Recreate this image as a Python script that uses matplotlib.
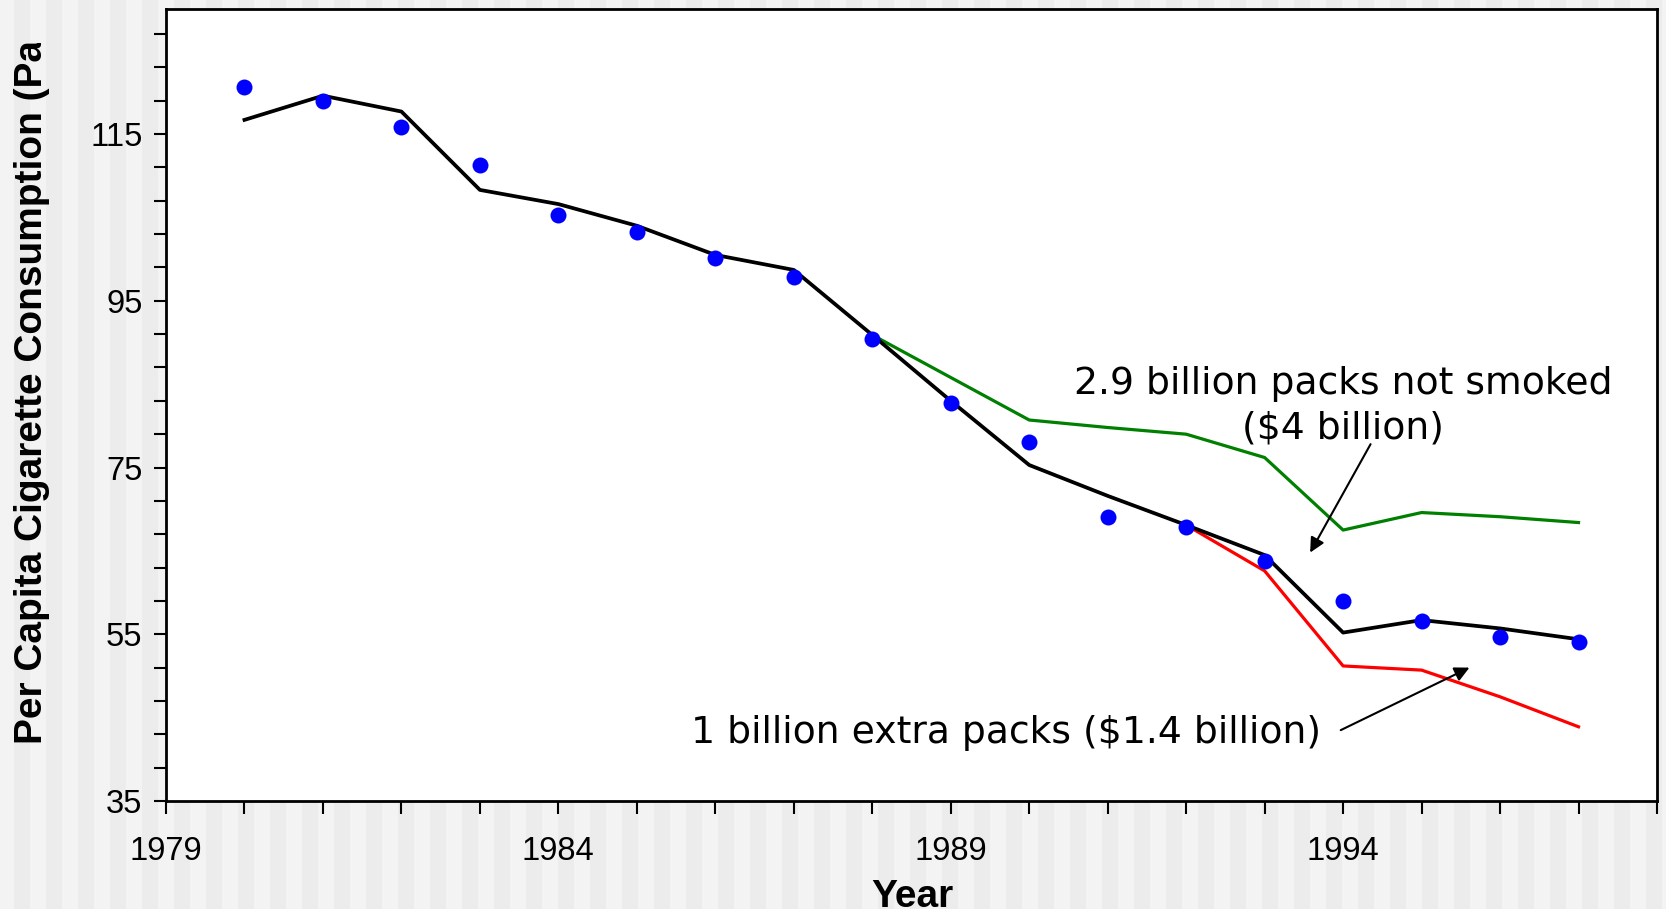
import numpy as np
import matplotlib
matplotlib.use('Agg')
import matplotlib.pyplot as plt
import matplotlib.ticker as ticker
from matplotlib.transforms import Bbox, TransformedBbox

plt.rcParams['font.family'] = ['Liberation Sans', 'DejaVu Sans']

# ── Data ────────────────────────────────────────────────────────────────
years_obs = np.arange(1980, 1998)
observed = [120.6, 119.0, 115.8, 111.3, 105.3, 103.2, 100.1, 97.9, 90.4,
            82.7, 78.1, 69.1, 67.9, 63.8, 59.0, 56.6, 54.7, 54.1]

years_fit = np.arange(1980, 1998)
fitted = [116.7, 119.6, 117.7, 108.3, 106.6, 104.0, 100.5, 98.7, 90.9,
          83.0, 75.3, 71.6, 68.1, 64.5, 55.2, 56.7, 55.7, 54.4]

# counterfactual without the program (from 1988)
years_green = np.arange(1988, 1998)
no_program = [90.9, 85.8, 80.7, 79.8, 79.0, 76.2, 67.5, 69.6, 69.1, 68.4]

# program cut back (from 1992)
years_red = np.arange(1992, 1998)
cut_back = [68.1, 62.6, 51.2, 50.7, 47.5, 43.9]

W, H, DPI = 1666, 909, 100
fig = plt.figure(figsize=(W / DPI, H / DPI), dpi=DPI)

# striped backdrop
bg = fig.add_axes([0, 0, 1, 1], zorder=-10)
stripes = ((np.arange(W) - 78) // 16) % 2
bg.imshow(np.tile(np.where(stripes == 0, 0.925, 0.955), (4, 1)),
          cmap='gray', vmin=0, vmax=1, aspect='auto', interpolation='nearest')
bg.axis('off')

ax = fig.add_axes([166 / W, 1 - 801 / H, (1657 - 166) / W, (801 - 9) / H])
ax.set_facecolor('white')

ax.plot(years_green, no_program, color='#008000', lw=2.3, zorder=2)
ax.plot(years_red, cut_back, color='#ff0000', lw=2.3, zorder=2)
ax.plot(years_fit, fitted, color='black', lw=2.7, zorder=3)
ax.plot(years_obs, observed, 'o', color='#0000ff', ms=11.5, mec='none', zorder=4)

ax.set_xlim(1979, 1998)
ax.set_ylim(35, 130)
ax.xaxis.set_major_locator(ticker.FixedLocator([1979, 1984, 1989, 1994]))
ax.xaxis.set_minor_locator(ticker.FixedLocator(np.arange(1979, 1999)))
ax.yaxis.set_major_locator(ticker.FixedLocator([35, 55, 75, 95, 115]))
ax.yaxis.set_minor_locator(ticker.FixedLocator(np.arange(35, 131, 4)))

ax.tick_params(which='both', direction='out', length=9, width=1.5, color='black')
ax.tick_params(axis='both', which='major', labelsize=23.5)
ax.tick_params(axis='x', which='major', pad=16)
ax.tick_params(axis='y', which='major', pad=8)
for sp in ax.spines.values():
    sp.set_linewidth(2)

# annotations
ax.text(1994.0, 82.4, '2.9 billion packs not smoked\n($4 billion)',
        ha='center', va='center', fontsize=27.2, family='DejaVu Sans',
        linespacing=1.3)
ax.annotate('', xy=(1993.58, 64.8), xytext=(1994.35, 77.8),
            arrowprops=dict(arrowstyle='-|>', color='black', lw=1.5,
                            mutation_scale=22, shrinkA=0, shrinkB=0))
ax.text(1993.72, 43.2, '1 billion extra packs ($1.4 billion)',
        ha='right', va='center', fontsize=27.2, family='DejaVu Sans')
ax.annotate('', xy=(1995.61, 51.0), xytext=(1993.97, 43.5),
            arrowprops=dict(arrowstyle='-|>', color='black', lw=1.5,
                            mutation_scale=22, shrinkA=0, shrinkB=0))

# axis titles
ylab = fig.text(32 / W, 1 - 744 / H, 'Per Capita Cigarette Consumption (Packs)',
                rotation=90, ha='center', va='bottom', fontsize=28,
                fontweight='bold')
ylab.set_clip_box(TransformedBbox(Bbox([[0, 0], [1, 1 - 43 / H]]), fig.transFigure))
fig.text(912 / W, 2 / H, 'Year', ha='center', va='baseline', fontsize=28,
         fontweight='bold')

fig.savefig('out.png', dpi=DPI)
